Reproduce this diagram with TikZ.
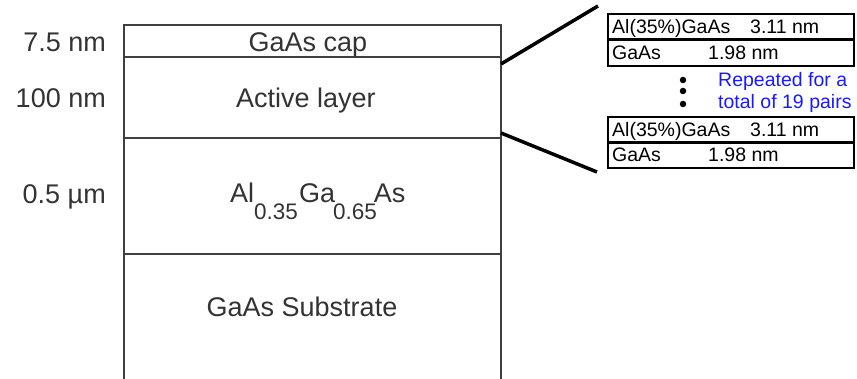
\documentclass[tikz,border=0pt]{standalone}
\usepackage{fontspec}
\setmainfont{Liberation Sans}
\definecolor{txtgray}{HTML}{333333}
\definecolor{linegray}{HTML}{404040}
\definecolor{repblue}{HTML}{1A1AFF}
\begin{document}
\begin{tikzpicture}[x=1pt,y=-1pt,
  stackline/.style={draw=linegray,line width=2pt},
  zoomline/.style={draw=black,line width=3.5pt},
  pairbox/.style={draw=black,line width=2pt},
  bigtxt/.style={inner sep=0pt,anchor=base,text=txtgray,font=\fontsize{27}{30}\selectfont},
  smalltxt/.style={inner sep=0pt,anchor=base west,text=black,font=\fontsize{19.5}{22}\selectfont},
  bluetxt/.style={inner sep=0pt,anchor=base west,text=repblue,font=\fontsize{19.5}{22}\selectfont},
  dotmark/.style={circle,fill=black,inner sep=0pt,minimum size=6.5pt}]
\useasboundingbox (0,0) rectangle (857,379);
% main stack
\coordinate (sbl) at (124,380);
\coordinate (stl) at (124,25);
\coordinate (str) at (501,25);
\coordinate (sbr) at (501,380);
\draw[stackline] (sbl) -- (stl) -- (str) -- (sbr);
\coordinate (c1l) at (124,57);  \coordinate (c1r) at (501,57);
\coordinate (c2l) at (124,138); \coordinate (c2r) at (501,138);
\coordinate (c3l) at (124,254); \coordinate (c3r) at (501,254);
\draw[stackline] (c1l) -- (c1r);
\draw[stackline] (c2l) -- (c2r);
\draw[stackline] (c3l) -- (c3r);
% layer labels
\node[bigtxt] (capt) at (308,52) {GaAs cap};
\node[bigtxt] (actt) at (306,108) {Active layer};
\node[bigtxt,anchor=base west] (algat) at (230,203) {Al\raisebox{-17pt}{\fontsize{22.5}{25}\selectfont 0.35}\kern1pt Ga\kern-2pt\raisebox{-17pt}{\fontsize{22.5}{25}\selectfont 0.65}\kern-3pt As};
\node[bigtxt] (subt) at (302,317) {GaAs Substrate};
% thickness labels
\node[bigtxt,anchor=base east] (t1) at (106,52) {7.5 nm};
\node[bigtxt,anchor=base east] (t2) at (106,108) {100 nm};
\node[bigtxt,anchor=base east] (t3) at (106,204) {0.5 \textmu m};
% zoom connectors
\coordinate (za) at (501,64);
\coordinate (zb) at (598,6);
\coordinate (zc) at (501,133);
\coordinate (zd) at (597,172);
\draw[zoomline] (za) -- (zb);
\draw[zoomline] (zc) -- (zd);
% pair boxes
\draw[pairbox] (608,14) rectangle (854,39.5);
\draw[pairbox] (608,40.5) rectangle (854,66);
\draw[pairbox] (608,117) rectangle (854,142);
\draw[pairbox] (608,143) rectangle (854,168);
\node[smalltxt] (r1a) at (612,34) {Al(35\%)GaAs};
\node[smalltxt] (r1b) at (750,34) {3.11 nm};
\node[smalltxt] (r2a) at (612,60) {GaAs};
\node[smalltxt] (r2b) at (708,60) {1.98 nm};
\node[smalltxt] (r3a) at (612,137) {Al(35\%)GaAs};
\node[smalltxt] (r3b) at (750,137) {3.11 nm};
\node[smalltxt] (r4a) at (612,162) {GaAs};
\node[smalltxt] (r4b) at (708,162) {1.98 nm};
% dots and note
\node[dotmark] (d1) at (683,80) {};
\node[dotmark] (d2) at (683,91) {};
\node[dotmark] (d3) at (683,104) {};
\node[bluetxt] (n1) at (718,87) {Repeated for a};
\node[bluetxt] (n2) at (718,109) {total of 19 pairs};
\end{tikzpicture}
\end{document}
